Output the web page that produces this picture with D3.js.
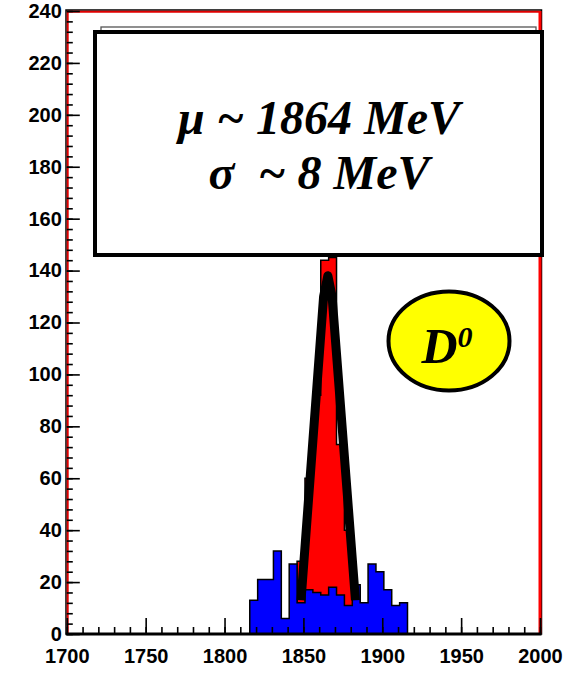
<!DOCTYPE html>
<html>
<head>
<meta charset="utf-8">
<script src="https://cdn.jsdelivr.net/npm/d3@7"></script>
<style>
  html, body { margin: 0; padding: 0; background: #ffffff; }
  svg { display: block; }
</style>
</head>
<body>
<svg id="chart" width="586" height="673"></svg>
<script>
// Invariant-mass histogram for D0 candidates (MeV)
const binStart = 1816;      // lower edge of first filled bin
const binWidth = 5;         // MeV per bin

// Background-like (blue) distribution, one count per bin from binStart
const blueCounts = [13, 21, 21, 32, 6, 27, 12, 17, 16, 15, 18, 15, 11, 19, 12, 27, 24, 17, 11, 12];

// Signal-window (red) distribution, first bin edge given separately
const redStart = 1846;
const redCounts = [28, 60, 92, 144, 145, 73, 40, 18];

// Fitted peak shape, sampled as (mass, counts) vertices
const fitMass  = [1848.5, 1862.8, 1865.5, 1868.2, 1883.0];
const fitCount = [13, 130, 138, 130, 13];

// Axis ticks
const xMajorTicks = [1700, 1750, 1800, 1850, 1900, 1950, 2000];
const xMinorTicks = d3.range(1700, 2001, 10);
const yMajorTicks = d3.range(0, 241, 20);
const yMinorTicks = d3.range(0, 241, 4);

// Annotation text
const fitLines = ["\u03bc ~ 1864 MeV", "\u03c3  ~ 8 MeV"];
const particleName = "D";
const particleCharge = "0";

const svg = d3.select("#chart");
const plotLeft = 66.8, plotRight = 540, plotTop = 11, plotBottom = 634;

const x = d3.scaleLinear().domain([1700, 2000]).range([plotLeft, plotRight]);
const y = d3.scaleLinear().domain([0, 240]).range([plotBottom, plotTop]);

// Turn bin counts into a closed step outline
function stepPoints(start, counts) {
  const pts = [[start, 0]];
  counts.forEach((c, i) => pts.push([start + i * binWidth, c]));
  const end = start + counts.length * binWidth;
  pts.push([end, counts[counts.length - 1]]);
  pts.push([end, 0]);
  return pts;
}

const stepArea = d3.area()
  .x(d => x(d[0])).y0(y(0)).y1(d => y(d[1]))
  .curve(d3.curveStepAfter);
const stepLine = d3.line()
  .x(d => x(d[0])).y(d => y(d[1]))
  .curve(d3.curveStepAfter);

const plot = svg.append("g");

// Red signal histogram
const redPts = stepPoints(redStart, redCounts);
plot.append("path").attr("d", stepArea(redPts)).attr("fill", "#ff0000");
plot.append("path").attr("d", stepLine(redPts))
  .attr("fill", "none").attr("stroke", "#000").attr("stroke-width", 1.5);

// Blue histogram on top
const bluePts = stepPoints(binStart, blueCounts);
plot.append("path").attr("d", stepArea(bluePts)).attr("fill", "#0000ff");
plot.append("path").attr("d", stepLine(bluePts))
  .attr("fill", "none").attr("stroke", "#000").attr("stroke-width", 1.5);

// Fit curve
const fitPts = fitMass.map((m, i) => [m, fitCount[i]]);
plot.append("path")
  .attr("d", d3.line().x(d => x(d[0])).y(d => y(d[1])).curve(d3.curveLinear)(fitPts))
  .attr("fill", "none").attr("stroke", "#000").attr("stroke-width", 9)
  .attr("stroke-linejoin", "round").attr("stroke-linecap", "butt");

// Frame: black outer lines, red inner lines on top/left/right
svg.append("rect")
  .attr("x", plotLeft - 0.8).attr("y", plotTop - 1)
  .attr("width", plotRight - plotLeft + 2.3).attr("height", plotBottom - plotTop + 1)
  .attr("fill", "none").attr("stroke", "#000").attr("stroke-width", 1.5);
svg.append("path")
  .attr("d", `M${plotLeft + 0.9},${plotBottom} V${plotTop + 0.8} H${plotRight - 0.2}`)
  .attr("fill", "none").attr("stroke", "#e00000").attr("stroke-width", 2);
svg.append("line")
  .attr("x1", plotRight).attr("x2", plotRight)
  .attr("y1", plotTop).attr("y2", plotBottom)
  .attr("stroke", "#ff0000").attr("stroke-width", 3);

// Axes with inward ticks
const fontAxis = "'Liberation Sans', Arial, Helvetica, sans-serif";
const intFmt = d3.format("d");

const yMinor = svg.append("g").attr("transform", `translate(${plotLeft},0)`)
  .call(d3.axisLeft(y).tickValues(yMinorTicks).tickSize(-6).tickFormat(""));
const yMajor = svg.append("g").attr("transform", `translate(${plotLeft},0)`)
  .call(d3.axisLeft(y).tickValues(yMajorTicks).tickSize(-13).tickPadding(5).tickFormat(intFmt));

const xMinor = svg.append("g").attr("transform", `translate(0,${plotBottom})`)
  .call(d3.axisBottom(x).tickValues(xMinorTicks).tickSize(-7).tickFormat(""));
const xMajor = svg.append("g").attr("transform", `translate(0,${plotBottom})`)
  .call(d3.axisBottom(x).tickValues(xMajorTicks).tickSize(-16).tickPadding(15).tickFormat(intFmt));

[yMinor, yMajor, xMinor, xMajor].forEach(g => {
  g.select(".domain").remove();
  g.selectAll(".tick line").attr("stroke", "#000").attr("stroke-width", 1.6);
  g.selectAll("text")
    .attr("fill", "#000")
    .style("font-family", fontAxis)
    .style("font-weight", "bold")
    .style("font-size", "20px");
});

// Thick bottom axis line
svg.append("line")
  .attr("x1", plotLeft - 1).attr("x2", plotRight + 1.5)
  .attr("y1", plotBottom).attr("y2", plotBottom)
  .attr("stroke", "#000").attr("stroke-width", 3);

// Fit result box (with the edge of a second pane behind it)
svg.append("rect")
  .attr("x", 101).attr("y", 27).attr("width", 435).attr("height", 200)
  .attr("fill", "#fff").attr("stroke", "#555").attr("stroke-width", 1.3);
svg.append("rect")
  .attr("x", 95).attr("y", 32).attr("width", 447).attr("height", 223)
  .attr("fill", "#fff").attr("stroke", "#000").attr("stroke-width", 4);

const fontSerif = "'Liberation Serif', 'Times New Roman', Times, serif";
svg.append("g").selectAll("text").data(fitLines).join("text")
  .attr("x", 319)
  .attr("y", (d, i) => 134 + i * 55)
  .attr("text-anchor", "middle")
  .style("font-family", fontSerif)
  .style("font-style", "italic")
  .style("font-weight", "bold")
  .style("font-size", "48px")
  .style("white-space", "pre")
  .text(d => d);

// Particle badge
svg.append("ellipse")
  .attr("cx", 449).attr("cy", 341).attr("rx", 60.5).attr("ry", 49.5)
  .attr("fill", "#ffff00").attr("stroke", "#000").attr("stroke-width", 4);
const badge = svg.append("text")
  .attr("x", 447).attr("y", 363)
  .attr("text-anchor", "middle")
  .style("font-family", fontSerif)
  .style("font-style", "italic")
  .style("font-weight", "bold")
  .style("font-size", "50px");
badge.append("tspan").text(particleName);
badge.append("tspan").attr("dy", -16).style("font-size", "30px").text(particleCharge);
</script>
</body>
</html>
